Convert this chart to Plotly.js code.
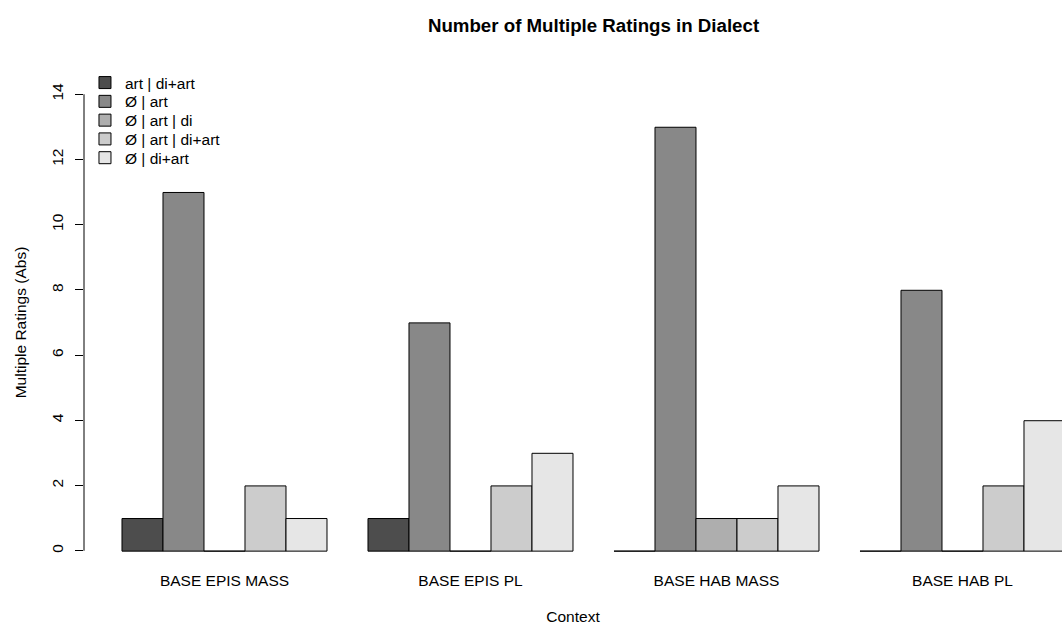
<!DOCTYPE html>
<html>
<head>
<meta charset="utf-8">
<script src="https://cdn.plot.ly/plotly-3.0.1.min.js"></script>
<style>html,body{margin:0;padding:0;background:#fff;}#chart{width:1062px;height:625px;}</style>
</head>
<body>
<div id="chart"></div>
<script>
const contexts = ["BASE EPIS MASS", "BASE EPIS PL", "BASE HAB MASS", "BASE HAB PL"];
const seriesNames = ["art | di+art", "Ø | art", "Ø | art | di", "Ø | art | di+art", "Ø | di+art"];
const artDiArt      = [1, 1, 0, 0];
const nullArt       = [11, 7, 13, 8];
const nullArtDi     = [0, 0, 1, 0];
const nullArtDiArt  = [2, 2, 1, 2];
const nullDiArt     = [1, 3, 2, 4];
const seriesValues = [artDiArt, nullArt, nullArtDi, nullArtDiArt, nullDiArt];
const colors = ["#4D4D4D", "#888888", "#AEAEAE", "#CCCCCC", "#E6E6E6"];
const yTicks = [0, 2, 4, 6, 8, 10, 12, 14];

const FONT = "Liberation Sans, Arial, sans-serif";
const legendIds = ["legend", "legend2", "legend3", "legend4", "legend5"];

const traces = seriesNames.map((name, i) => ({
  type: "bar",
  name: name,
  x: contexts,
  y: seriesValues[i],
  base: -0.012,
  legend: legendIds[i],
  marker: { color: colors[i], line: { color: "#000000", width: 1 } },
  hoverinfo: "x+y+name"
}));

const layout = {
  width: 1062,
  height: 625,
  paper_bgcolor: "#ffffff",
  plot_bgcolor: "#ffffff",
  font: { family: FONT, size: 15.5, color: "#000000" },
  margin: { l: 84, r: 0, t: 76, b: 56, pad: 0 },
  barmode: "group",
  bargap: 1/6,
  bargroupgap: 0,
  title: {
    text: "<b>Number of Multiple Ratings in Dialect</b>",
    font: { family: FONT, size: 18.7, color: "#000000" },
    xref: "paper", x: 0.521, xanchor: "center",
    yref: "container", y: 0.96, yanchor: "middle"
  },
  xaxis: {
    type: "category",
    range: [-0.5711, 3.4045],
    showgrid: false, zeroline: false, showline: false,
    ticks: "", ticklabelstandoff: 0,
    tickfont: { family: FONT, size: 15.5 },
    title: { text: "Context", font: { family: FONT, size: 15.5 }, standoff: 33 },
    fixedrange: true
  },
  yaxis: {
    range: [-0.56, 14.56],
    tickvals: yTicks,
    ticktext: yTicks.map(String),
    showgrid: false, zeroline: false, showline: false,
    ticks: "outside", ticklen: 8, tickwidth: 1, tickcolor: "#000000",
    tickangle: -90, ticklabelstandoff: 6,
    tickfont: { family: FONT, size: 15.5 },
    title: { text: "Multiple Ratings (Abs)", font: { family: FONT, size: 15.5 }, standoff: 18 },
    fixedrange: true
  },
  shapes: [{
    type: "line", xref: "paper", yref: "y",
    x0: 0, x1: 0, y0: 0, y1: 14,
    line: { color: "#000000", width: 1 }
  }],
  showlegend: true
};

legendIds.forEach((id, k) => {
  layout[id] = {
    x: 0.001, xanchor: "left",
    y: 1.0203 - 0.0381 * k, yanchor: "top",
    bgcolor: "rgba(0,0,0,0)",
    borderwidth: 0,
    font: { family: FONT, size: 15.5, color: "#000000" }
  };
});

Plotly.newPlot("chart", traces, layout, { displayModeBar: false });
</script>
</body>
</html>
